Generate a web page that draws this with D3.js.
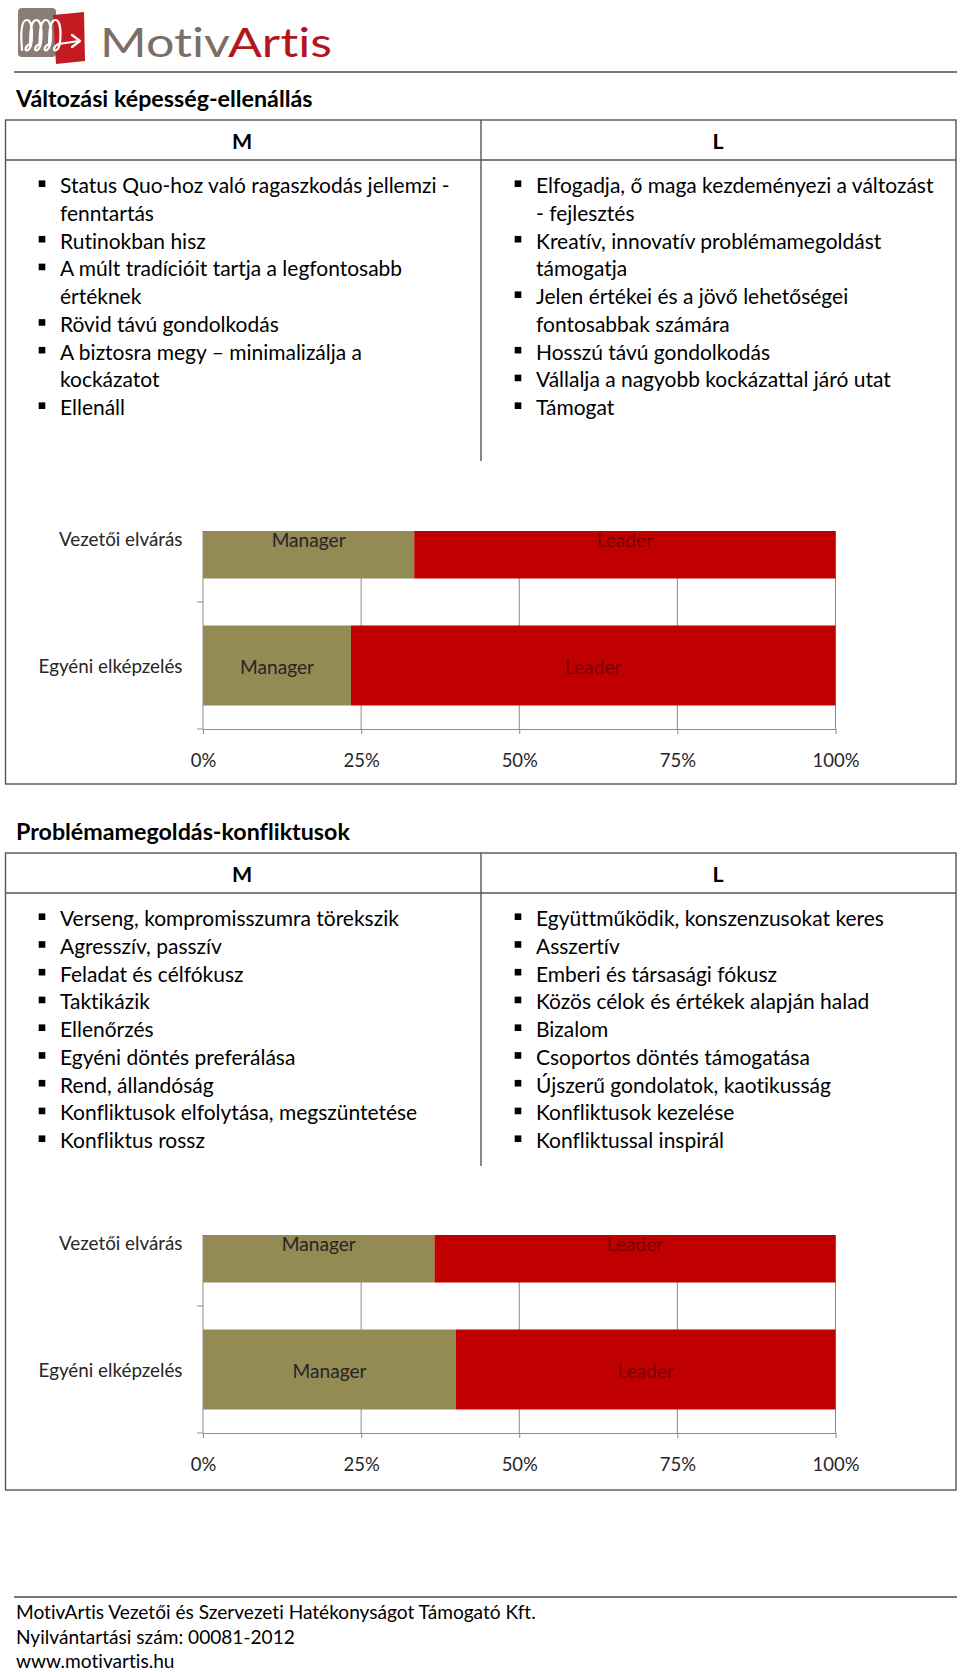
<!DOCTYPE html>
<html>
<head>
<meta charset="utf-8">
<script src="https://cdn.jsdelivr.net/npm/d3@7"></script>
<style>
  body { margin: 0; background: #fff; }
  svg { display: block; font-variant-ligatures: none; font-feature-settings: "liga" 0, "clig" 0; }
</style>
</head>
<body>
<script>
// ---- data ----
var sectionTitles = ["Változási képesség-ellenállás", "Problémamegoldás-konfliktusok"];
var columnHeads = ["M", "L"];

var managerTraits1 = [
    ["Status Quo-hoz való ragaszkodás jellemzi -", "fenntartás"],
    ["Rutinokban hisz"],
    ["A múlt tradícióit tartja a legfontosabb", "értéknek"],
    ["Rövid távú gondolkodás"],
    ["A biztosra megy – minimalizálja a", "kockázatot"],
    ["Ellenáll"]
];
var leaderTraits1 = [
    ["Elfogadja, ő maga kezdeményezi a változást", "- fejlesztés"],
    ["Kreatív, innovatív problémamegoldást", "támogatja"],
    ["Jelen értékei és a jövő lehetőségei", "fontosabbak számára"],
    ["Hosszú távú gondolkodás"],
    ["Vállalja a nagyobb kockázattal járó utat"],
    ["Támogat"]
];
var managerTraits2 = [
    ["Verseng, kompromisszumra törekszik"],
    ["Agresszív, passzív"],
    ["Feladat és célfókusz"],
    ["Taktikázik"],
    ["Ellenőrzés"],
    ["Egyéni döntés preferálása"],
    ["Rend, állandóság"],
    ["Konfliktusok elfolytása, megszüntetése"],
    ["Konfliktus rossz"]
];
var leaderTraits2 = [
    ["Együttműködik, konszenzusokat keres"],
    ["Asszertív"],
    ["Emberi és társasági fókusz"],
    ["Közös célok és értékek alapján halad"],
    ["Bizalom"],
    ["Csoportos döntés támogatása"],
    ["Újszerű gondolatok, kaotikusság"],
    ["Konfliktusok kezelése"],
    ["Konfliktussal inspirál"]
];

var categories = ["Vezetői elvárás", "Egyéni elképzelés"];
var seriesNames = ["Manager", "Leader"];
var managerValues1 = [33.4, 23.4];
var leaderValues1 = [66.6, 76.6];
var managerValues2 = [36.6, 40.0];
var leaderValues2 = [63.4, 60.0];
var tickValues = [0, 25, 50, 75, 100];
var tickLabels = ["0%", "25%", "50%", "75%", "100%"];

var footerLines = [
    "MotivArtis Vezetői és Szervezeti Hatékonyságot Támogató Kft.",
    "Nyilvántartási szám: 00081-2012",
    "www.motivartis.hu"
];

// ---- layout / style ----
var W = 960, H = 1672;
var FONT = "Lato, 'Open Sans', sans-serif";
var LINE = 27.75;
var seriesColors = ["#948A54", "#C00000"];
var labelColors = ["#262626", "#7a0000"];
var boxColor = "#555555";

var layouts = [
    {titleY: 107, boxTop: 120, headY: 160, dividerEnd: 461, boxBottom: 784, axisY: 729, clipTop: 531},
    {titleY: 840, boxTop: 853, headY: 893, dividerEnd: 1166, boxBottom: 1490, axisY: 1433, clipTop: 1235}
];

var sections = [
    {title: sectionTitles[0], left: managerTraits1, right: leaderTraits1, values: [managerValues1, leaderValues1]},
    {title: sectionTitles[1], left: managerTraits2, right: leaderTraits2, values: [managerValues2, leaderValues2]}
];

var svg = d3.select("body").append("svg")
    .attr("width", W)
    .attr("height", H)
    .style("background", "#fff");

function fitSize(sample, target, weight) {
    var t = svg.append("text")
        .attr("font-family", FONT)
        .attr("font-weight", weight)
        .attr("font-size", 100)
        .text(sample);
    var w = t.node().getComputedTextLength();
    t.remove();
    return 100 * target / w;
}

var bodySize = fitSize(managerTraits1[0][0], 390, 400);
var titleSize = fitSize(sectionTitles[0], 296.5, 700);
var catSize = fitSize(categories[1], 144, 400);
var barLabelSize = fitSize(seriesNames[0], 74, 400);
var tickSize = fitSize(tickLabels[4], 47, 400);
var footerSize = fitSize(footerLines[0], 520, 400);

// ---- logo ----
var logo = svg.append("g").attr("class", "logo");
logo.append("rect")
    .attr("x", 18).attr("y", 8).attr("width", 38).attr("height", 49).attr("rx", 4)
    .attr("fill", "#8a7d76");
logo.append("path")
    .attr("d", "M53,15 L84,12 L85,61 L56,64 Z")
    .attr("fill", "#c41a22");

var loops = d3.path();
loops.moveTo(22, 50);
[0, 1, 2, 3].forEach(function(i) {
    var cx = 27 + i * 9.5;
    loops.bezierCurveTo(cx - 6, 38, cx - 7, 20, cx, 20);
    loops.bezierCurveTo(cx + 7, 20, cx + 6, 48, cx + 1, 50);
    loops.bezierCurveTo(cx - 3, 52, cx - 2, 46, cx + 3, 44);
});
loops.lineTo(79, 41);
logo.append("path")
    .attr("d", loops.toString())
    .attr("fill", "none").attr("stroke", "#fff").attr("stroke-width", 2.2)
    .attr("stroke-linecap", "round");
logo.append("path")
    .attr("d", "M72,35 L80,41 L72,47")
    .attr("fill", "none").attr("stroke", "#fff").attr("stroke-width", 2.2)
    .attr("stroke-linecap", "round").attr("stroke-linejoin", "round");

var logoText = logo.append("text")
    .attr("x", 100).attr("y", 57)
    .attr("font-family", FONT).attr("font-size", 41)
    .attr("textLength", 232).attr("lengthAdjust", "spacingAndGlyphs");
logoText.append("tspan").attr("fill", "#7b6e67").text("Motiv");
logoText.append("tspan").attr("fill", "#b3151d").text("Artis");

svg.append("line")
    .attr("x1", 14).attr("x2", 957).attr("y1", 72).attr("y2", 72)
    .attr("stroke", "#4d4d4d").attr("stroke-width", 1.5);

// ---- sections ----
sections.forEach(function(sec, si) {
    var L = layouts[si];
    var g = svg.append("g").attr("class", "section-" + si);

    g.append("text")
        .attr("x", 16).attr("y", L.titleY)
        .attr("font-family", FONT).attr("font-weight", 700).attr("font-size", titleSize)
        .attr("fill", "#000")
        .text(sec.title);

    // table / box frame
    g.append("rect")
        .attr("x", 5.5).attr("y", L.boxTop)
        .attr("width", 950.5).attr("height", L.boxBottom - L.boxTop)
        .attr("fill", "none").attr("stroke", boxColor).attr("stroke-width", 1.4);
    g.append("line")
        .attr("x1", 5.5).attr("x2", 956).attr("y1", L.headY).attr("y2", L.headY)
        .attr("stroke", boxColor).attr("stroke-width", 1.4);
    g.append("line")
        .attr("x1", 481).attr("x2", 481).attr("y1", L.boxTop).attr("y2", L.dividerEnd)
        .attr("stroke", boxColor).attr("stroke-width", 1.4);

    g.selectAll("text.head")
        .data(columnHeads)
        .join("text")
        .attr("class", "head")
        .attr("x", function(d, i) { return i === 0 ? 242 : 718; })
        .attr("y", L.headY - 11)
        .attr("text-anchor", "middle")
        .attr("font-family", FONT).attr("font-weight", 700).attr("font-size", titleSize * 0.92)
        .text(function(d) { return d; });

    // bullet lists
    var base0 = L.headY + 33.2;
    [[sec.left, 42, 60], [sec.right, 518, 536]].forEach(function(col) {
        var lines = [], bullets = [], n = 0;
        col[0].forEach(function(item) {
            bullets.push(n);
            item.forEach(function(t) { lines.push({t: t, n: n}); n++; });
        });
        g.selectAll(null).data(bullets).join("rect")
            .attr("x", col[1] - 3.3)
            .attr("y", function(d) { return base0 + d * LINE - 12.8; })
            .attr("width", 6.6).attr("height", 6.6)
            .attr("fill", "#000");
        g.selectAll(null).data(lines).join("text")
            .attr("x", col[2])
            .attr("y", function(d) { return base0 + d.n * LINE; })
            .attr("font-family", FONT).attr("font-size", bodySize)
            .attr("fill", "#000")
            .text(function(d) { return d.t; });
    });

    // ---- stacked bar chart ----
    var x = d3.scaleLinear().domain([0, 100]).range([203, 835.5]);
    var step = 127, pad = 47 / 127;
    var y = d3.scaleBand()
        .domain(categories)
        .range([L.axisY - categories.length * step, L.axisY])
        .paddingInner(pad)
        .paddingOuter(pad / 2);

    var clipId = "clip-" + si;
    svg.append("defs").append("clipPath").attr("id", clipId)
        .append("rect")
        .attr("x", 0).attr("y", L.clipTop)
        .attr("width", W).attr("height", L.axisY - L.clipTop + 20);

    var chart = g.append("g").attr("clip-path", "url(#" + clipId + ")");

    chart.selectAll("line.grid")
        .data(tickValues.slice(1))
        .join("line")
        .attr("class", "grid")
        .attr("x1", function(d) { return x(d); }).attr("x2", function(d) { return x(d); })
        .attr("y1", L.clipTop).attr("y2", L.axisY)
        .attr("stroke", "#8c8c8c").attr("stroke-width", 1);

    var stacked = d3.stack()
        .keys([0, 1])
        .value(function(d, k) { return sec.values[k][d]; })(d3.range(categories.length));

    var layers = chart.selectAll("g.layer")
        .data(stacked)
        .join("g")
        .attr("class", "layer")
        .attr("fill", function(d, i) { return seriesColors[i]; });

    layers.selectAll("rect")
        .data(function(d) { return d; })
        .join("rect")
        .attr("x", function(d) { return x(d[0]); })
        .attr("width", function(d) { return x(d[1]) - x(d[0]); })
        .attr("y", function(d) { return y(categories[d.data]); })
        .attr("height", y.bandwidth());

    layers.each(function(layer, li) {
        d3.select(this).selectAll("text")
            .data(layer)
            .join("text")
            .attr("x", function(d) { return (x(d[0]) + x(d[1])) / 2; })
            .attr("y", function(d) { return y(categories[d.data]) + y.bandwidth() / 2 + barLabelSize * 0.35 + 2; })
            .attr("text-anchor", "middle")
            .attr("font-family", FONT).attr("font-size", barLabelSize)
            .attr("fill", labelColors[li])
            .text(seriesNames[li]);
    });

    // category axis (ticks at band boundaries)
    chart.append("line")
        .attr("x1", x(0)).attr("x2", x(0)).attr("y1", L.clipTop).attr("y2", L.axisY)
        .attr("stroke", "#8c8c8c");
    chart.selectAll("line.ctick")
        .data(d3.range(categories.length))
        .join("line")
        .attr("class", "ctick")
        .attr("x1", x(0) - 6).attr("x2", x(0))
        .attr("y1", function(i) { return L.axisY - i * step; })
        .attr("y2", function(i) { return L.axisY - i * step; })
        .attr("stroke", "#8c8c8c");

    g.selectAll("text.cat")
        .data(categories)
        .join("text")
        .attr("class", "cat")
        .attr("x", x(0) - 20.5)
        .attr("y", function(d) { return y(d) + y.bandwidth() / 2 + catSize * 0.35 + 1; })
        .attr("text-anchor", "end")
        .attr("font-family", FONT).attr("font-size", catSize)
        .attr("fill", "#262626")
        .text(function(d) { return d; });

    // value axis
    var xAxis = d3.axisBottom(x)
        .tickValues(tickValues)
        .tickFormat(function(d, i) { return tickLabels[i]; })
        .tickSize(5)
        .tickSizeOuter(0)
        .tickPadding(20);
    var ax = g.append("g")
        .attr("transform", "translate(0," + L.axisY + ")")
        .call(xAxis);
    ax.select(".domain").attr("stroke", "#8c8c8c");
    ax.selectAll(".tick line").attr("stroke", "#8c8c8c");
    ax.selectAll(".tick text")
        .attr("font-family", FONT).attr("font-size", tickSize)
        .attr("fill", "#262626");
});

// ---- footer ----
svg.append("line")
    .attr("x1", 14).attr("x2", 957).attr("y1", 1597).attr("y2", 1597)
    .attr("stroke", "#4d4d4d").attr("stroke-width", 1.5);
svg.selectAll("text.footer")
    .data(footerLines)
    .join("text")
    .attr("class", "footer")
    .attr("x", 16)
    .attr("y", function(d, i) { return 1619 + i * 24.5; })
    .attr("font-family", FONT).attr("font-size", footerSize)
    .attr("fill", "#000")
    .text(function(d) { return d; });
</script>
</body>
</html>
